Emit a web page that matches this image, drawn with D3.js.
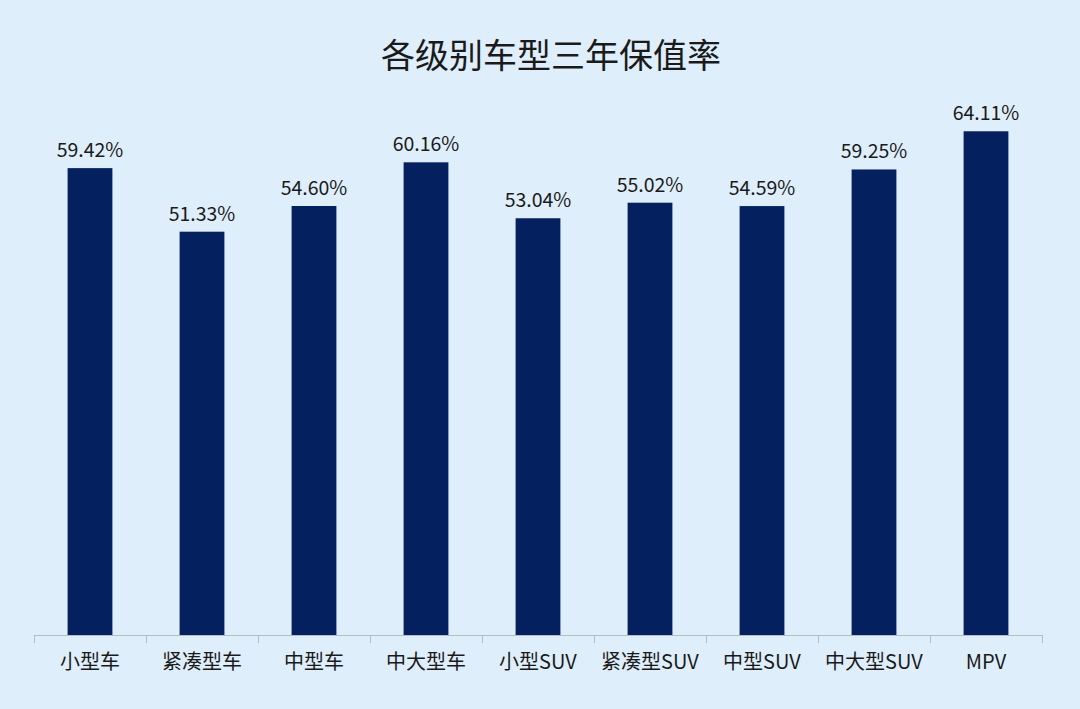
<!DOCTYPE html>
<html><head><meta charset="utf-8">
<script src="https://cdn.jsdelivr.net/npm/d3@7/dist/d3.min.js"></script>
<style>html,body{margin:0;padding:0;background:#dfeefb;}svg{display:block;}</style>
</head><body>
<script>
const categories = ["小型车","紧凑型车","中型车","中大型车","小型SUV","紧凑型SUV","中型SUV","中大型SUV","MPV"];
const values = [59.42,51.33,54.60,60.16,53.04,55.02,54.59,59.25,64.11];
const title = "各级别车型三年保值率";

const W = 1080, H = 709;
const svg = d3.select("body").append("svg").attr("width", W).attr("height", H);
svg.append("rect").attr("width", W).attr("height", H).attr("fill", "#dfeefb");

const font = "'Noto Sans CJK SC','Noto Sans',sans-serif";
const x = d3.scaleBand().domain(categories).range([34, 1042]).paddingInner(0.6).paddingOuter(0.3);
const y = d3.scaleLinear().domain([0, 70]).range([635, 85]);

svg.append("text").attr("x", 551).attr("y", 68).attr("text-anchor", "middle")
  .attr("font-family", font).attr("font-size", 34).attr("fill", "#1a1a1a").text(title);

svg.selectAll("rect.bar").data(values).enter().append("rect").attr("class", "bar")
  .attr("x", (d, i) => x(categories[i])).attr("width", x.bandwidth())
  .attr("y", d => y(d)).attr("height", d => y(0) - y(d)).attr("fill", "#04205e");

svg.selectAll("text.lbl").data(values).enter().append("text").attr("class", "lbl")
  .attr("x", (d, i) => x(categories[i]) + x.bandwidth() / 2).attr("y", d => y(d) - 11)
  .attr("text-anchor", "middle").attr("font-family", font).attr("font-size", 19.5).attr("fill", "#1a1a1a")
  .text(d => d.toFixed(2) + "%");

// axis with ticks between bands
const axisG = svg.append("g");
axisG.append("line").attr("x1", 34).attr("x2", 1043).attr("y1", 635.5).attr("y2", 635.5)
  .attr("stroke", "#b4bcc6").attr("stroke-width", 1);
const step = x.step();
const bounds = categories.map(c => x(c) - step * x.paddingInner() / 2);
bounds.push(x(categories[categories.length - 1]) + x.bandwidth() + step * x.paddingInner() / 2);
axisG.selectAll("line.tk").data(bounds).enter().append("line").attr("class", "tk")
  .attr("x1", d => Math.round(d) + 0.5).attr("x2", d => Math.round(d) + 0.5).attr("y1", 635).attr("y2", 643)
  .attr("stroke", "#b4bcc6").attr("stroke-width", 1);

svg.selectAll("text.cat").data(categories).enter().append("text").attr("class", "cat")
  .attr("x", d => x(d) + x.bandwidth() / 2).attr("y", 669)
  .attr("text-anchor", "middle").attr("font-family", font).attr("font-size", 20).attr("fill", "#1a1a1a")
  .text(d => d);
</script>
</body></html>
